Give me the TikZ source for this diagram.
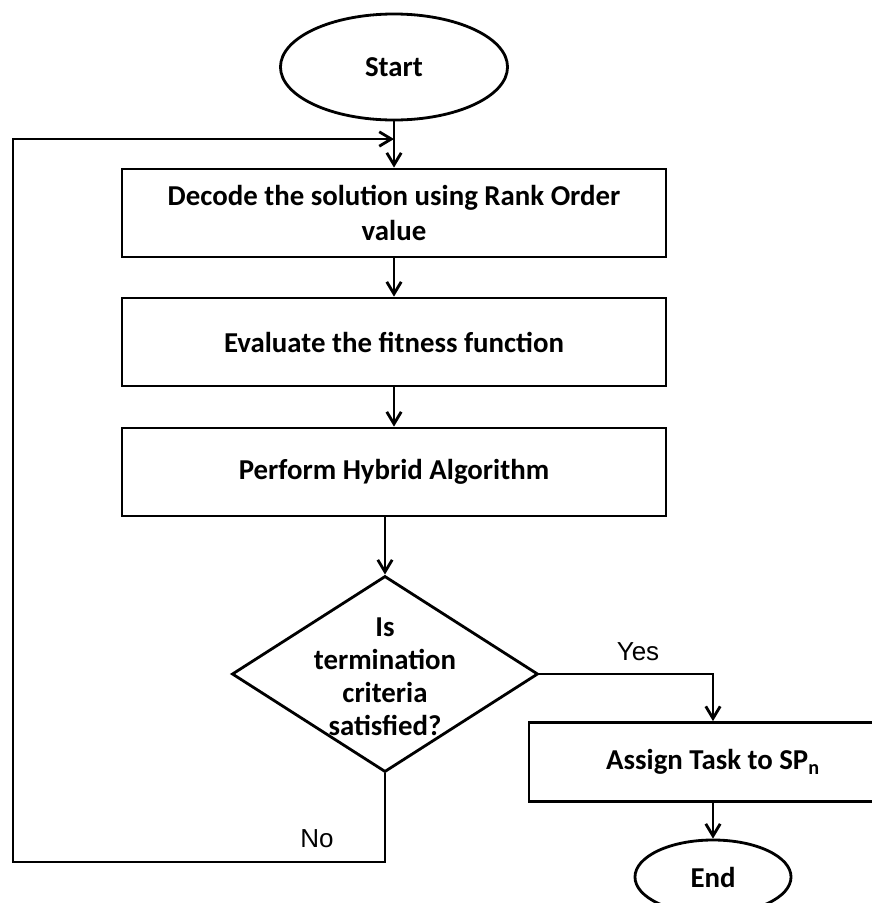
\documentclass[tikz,border=0pt]{standalone}
\usepackage{fontspec}
\setmainfont{Carlito}
\newfontfamily\yesnofont{Liberation Sans}
\usetikzlibrary{shapes.geometric,arrows.meta}
\tikzset{
  stepbox/.style={rectangle,draw,line width=2pt,minimum width=13.6cm,minimum height=2.2cm,align=center,font=\bfseries\fontsize{20.5}{25.5}\selectfont},
  terminal/.style={ellipse,draw,line width=2pt,inner sep=0pt,font=\bfseries\fontsize{20.5}{24}\selectfont},
  decision/.style={diamond,draw,line width=2pt,inner sep=0pt,minimum width=7.65cm,minimum height=4.9cm},
  flow/.style={line width=2pt,-{Straight Barb[length=3mm,width=3.6mm]}},
  branch/.style={font=\yesnofont\fontsize{18.5}{22}\selectfont}
}

\begin{document}
\begin{tikzpicture}[x=0.025cm,y=-0.025cm]
            \useasboundingbox (0,0) rectangle (872,903);
            % main column
            \node[terminal,minimum width=5.675cm,minimum height=2.65cm] (start) at (394,67) {Start};
            \node[stepbox] (decode) at (394,213) {Decode the solution using Rank Order\\value};
            \node[stepbox] (evaluate) at (394,342) {Evaluate the fitness function};
            \node[stepbox] (hybrid) at (394,472) {Perform Hybrid Algorithm};
            \node[decision] (check) at (385,674) {};
            \node[align=center,font=\bfseries\fontsize{20.5}{23.5}\selectfont] (checktext) at (385,677) {Is\\termination\\criteria\\satisfied?};
            % right branch
            \node[stepbox,minimum width=9.2cm,minimum height=1.975cm] (assign) at (713,762) {Assign Task to SP\textsubscript{n}};
            \node[terminal,minimum width=3.9cm,minimum height=1.85cm] (end) at (713,877) {End};
            \coordinate (loopbl) at (13,862);
            \coordinate (looptl) at (13,139);
            \draw[flow] (start) -- (decode);
            \draw[flow] (decode) -- (evaluate);
            \draw[flow] (evaluate) -- (hybrid);
            \draw[flow] (hybrid.south -| check.north) -- (check.north);
            \draw[flow] (check.east) -| (assign.north);
            \draw[flow] (assign) -- (end);
            \draw[flow] (check.south) |- (loopbl) -- (looptl) -- (looptl -| decode.north);
            \node[branch] (yes) at (638,652) {Yes};
            \node[branch] (no) at (317,839) {No};
        \end{tikzpicture}
\end{document}
